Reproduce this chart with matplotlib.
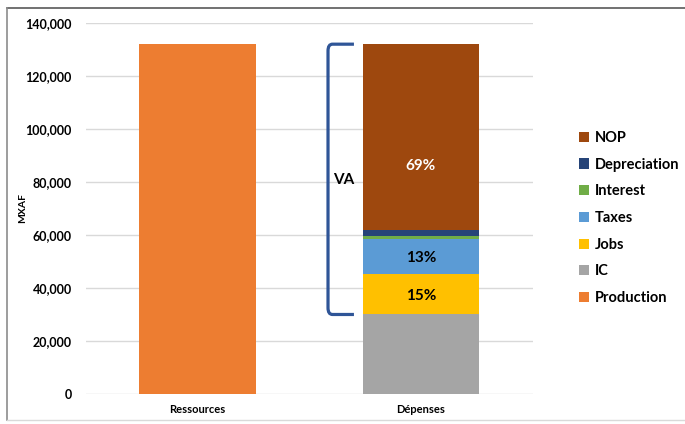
import matplotlib.pyplot as plt
from matplotlib.lines import Line2D
from matplotlib.path import Path
from matplotlib.patches import PathPatch

plt.rcParams['font.family'] = ['Lato', 'DejaVu Sans']

categories = ['Ressources', 'Dépenses']
production = 132000
# spending breakdown, bottom to top
components = ['IC', 'Jobs', 'Taxes', 'Interest', 'Depreciation', 'NOP']
values = [30000, 15300, 13300, 1100, 2200, 70100]
colors = {'IC': '#A5A5A5', 'Jobs': '#FFC000', 'Taxes': '#5B9BD5',
          'Interest': '#70AD47', 'Depreciation': '#264478', 'NOP': '#9E480E',
          'Production': '#ED7D31'}
labelled = {'Jobs': 'black', 'Taxes': 'black', 'NOP': 'white'}

fig = plt.figure(figsize=(6.85, 4.24), dpi=100)
ax = fig.add_axes([0.1252, 0.0708, 0.6525, 0.875])

width = 0.52
handles = {}
handles['Production'] = ax.bar(0, production, width, color=colors['Production'], zorder=3)

va_total = sum(values[1:])
bottom = 0
for name, v in zip(components, values):
    handles[name] = ax.bar(1, v, width, bottom=bottom, color=colors[name], zorder=3)
    if name in labelled:
        share = v / va_total * 100
        ypos = bottom + v / 2
        if name == 'NOP':
            ypos = bottom + v * 0.35
        ax.text(1, ypos, f'{share:.0f}%', ha='center', va='center_baseline',
                color=labelled[name], fontsize=11, fontweight='bold', zorder=4)
    bottom += v

# bracket around value added
va_lo, va_hi = values[0], bottom
x0, x1 = 0.584, 0.70
r = 0.02
ry = 2500
verts = [(x1, va_hi), (x0 + r, va_hi), (x0, va_hi), (x0, va_hi - ry),
         (x0, va_lo + ry), (x0, va_lo), (x0 + r, va_lo), (x1, va_lo)]
codes = [Path.MOVETO, Path.LINETO, Path.CURVE3, Path.CURVE3,
         Path.LINETO, Path.CURVE3, Path.CURVE3, Path.LINETO]
ax.add_patch(PathPatch(Path(verts, codes), fill=False, edgecolor='#2F5597',
                       linewidth=2.3, zorder=4, clip_on=False))
ax.text(0.655, 80700, 'VA', ha='center', va='center', fontsize=11,
        fontweight='bold')

ax.set_xlim(-0.5, 1.5)
ax.set_ylim(0, 140000)
ax.set_yticks(range(0, 140001, 20000))
ax.set_yticklabels([f'{t:,}' for t in range(0, 140001, 20000)],
                   fontsize=9, fontweight='bold')
ax.set_xticks([0, 1])
ax.set_xticklabels(categories, fontsize=8, fontweight='bold')
ax.tick_params(length=0, pad=10)
ax.tick_params(axis='x', pad=7)
ax.set_ylabel('MXAF', fontsize=7.5, fontweight='bold', labelpad=-1)
ax.grid(axis='y', color='#D9D9D9', linewidth=1, zorder=0)
for s in ax.spines.values():
    s.set_visible(False)

order = ['NOP', 'Depreciation', 'Interest', 'Taxes', 'Jobs', 'IC', 'Production']
fig.legend([handles[k] for k in order], order, loc='upper left',
           bbox_to_anchor=(0.845, 0.691), frameon=False,
           prop={'size': 10.5, 'weight': 'bold'}, handlelength=0.7,
           handleheight=0.7, handletextpad=0.4, labelspacing=0.87,
           borderaxespad=0, borderpad=0)

# frame edges around the chart area
fig.add_artist(Line2D([7 / 685, 1], [416 / 424, 416 / 424], color='#595959',
                      linewidth=1.2, transform=fig.transFigure))
fig.add_artist(Line2D([7 / 685, 7 / 685], [4 / 424, 416 / 424], color='#8C8C8C',
                      linewidth=1.2, transform=fig.transFigure))
fig.add_artist(Line2D([7 / 685, 1], [4 / 424, 4 / 424], color='#D9D9D9',
                      linewidth=1, transform=fig.transFigure))

fig.savefig('out.png', dpi=100)
